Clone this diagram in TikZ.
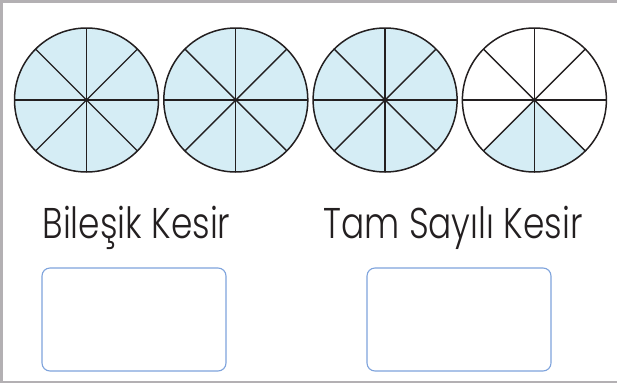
\documentclass[tikz,border=0pt]{standalone}
\usepackage{fontspec}
\newfontfamily\kindfont{Poppins}[UprightFont=* Light,FakeStretch=0.8]
\definecolor{pieblue}{HTML}{D5EDF5}
\definecolor{pieline}{HTML}{231F20}
\definecolor{boxblue}{HTML}{7EA3DC}
\definecolor{framegray}{HTML}{B3B0B3}
\tikzset{pie/.style={circle,draw=pieline,line width=1.5pt,minimum size=144pt,inner sep=0pt,outer sep=0pt},
  spoke/.style={draw=pieline,line width=1.35pt},
  answerbox/.style={draw=boxblue,line width=1.1pt,rounded corners=8pt,minimum width=184pt,minimum height=103pt,inner sep=0pt},
  kindlabel/.style={font=\kindfont\fontsize{43}{43}\selectfont,anchor=base,text=pieline,inner sep=0pt},
  frameline/.style={draw=framegray,line width=2.5pt}}

\begin{document}
\begin{tikzpicture}[x=1pt,y=-1pt]
\path[use as bounding box] (0,0) rectangle (617,383);
\draw[frameline] (617,1.5)--(1.5,1.5)--(1.5,381.8)--(617,381.8);
% pies: three whole, one with 2 of 8 shaded
\fill[pieblue] (534.4,100) -- +(45:72) arc[start angle=45,end angle=135,radius=72] -- cycle;
\foreach \i/\x in {1/86.5,2/235.8,3/385.1} \node[pie,fill=pieblue] (pie\i) at (\x,100) {};
\node[pie] (pie4) at (534.4,100) {};
\foreach \i in {1,...,4} {
\foreach \a [evaluate=\a as \b using int(\a+180)] in {0,45,90,135}
\draw[spoke] (pie\i.\a)--(pie\i.\b);}
% labels and answer boxes
\node[kindlabel] (bilesik) at (136.5,238) {Bileşik Kesir};
\node[kindlabel] (tamsayili) at (453,238) {Tam Sayılı Kesir};
\node[answerbox] (box1) at (134,319.5) {};
\node[answerbox] (box2) at (459,319.5) {};
\end{tikzpicture}
\end{document}
